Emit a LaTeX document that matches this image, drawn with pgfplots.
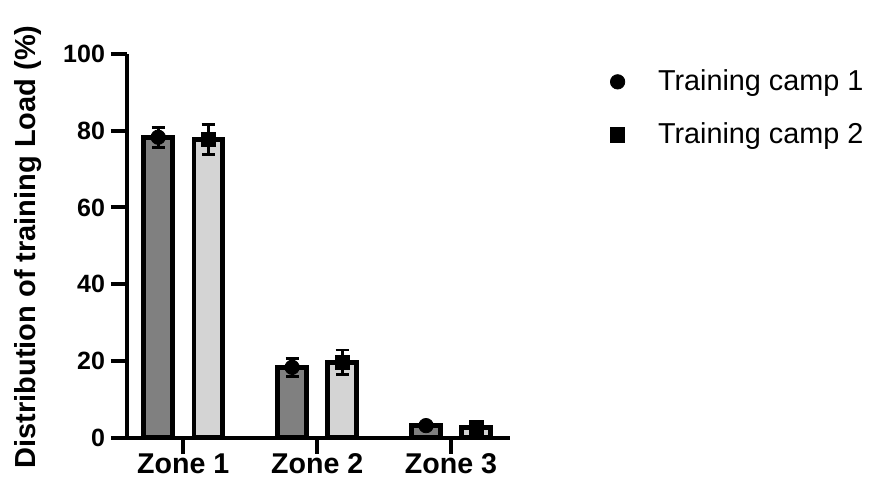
\documentclass[border=0pt]{standalone}
\usepackage{fontspec}
\setmainfont{Liberation Sans}
\usepackage{pgfplots}
\pgfplotsset{compat=1.18}
\definecolor{darkbar}{HTML}{808080}
\definecolor{lightbar}{HTML}{D4D4D4}
\begin{document}
\begin{tikzpicture}
\path (-63.5pt,-25.75pt) rectangle (378.5pt,218.75pt);
\begin{axis}[
  at={(0pt,0pt)}, anchor=south west,
  scale only axis, width=191.5pt, height=191.75pt,
  xmin=-0.42, xmax=2.44, ymin=0, ymax=100,
  axis x line=bottom, axis y line=left,
  axis line style={line width=2pt, -},
  xtick={0,1,2}, xticklabels={Zone 1,Zone 2,Zone 3},
  ytick={0,20,40,60,80,100},
  tick align=outside,
  major tick length=8pt,
  tick style={line width=2pt, black},
  /pgf/number format/assume math mode=true,
  yticklabel style={font=\fontsize{12.5}{14}\selectfont\bfseries, xshift=0.5pt},
  xticklabel style={font=\fontsize{14.3}{16}\selectfont\bfseries, yshift=3.5pt},
  ylabel={Distribution of training Load (\%)},
  every axis y label/.style={at={(axis description cs:-0.2585,0.497)}, rotate=90, anchor=center,
    font=\fontsize{14.5}{16}\selectfont\bfseries},
  clip=false,
  legend style={draw=none, fill=none, at={(rel axis cs:1.258,0.97)}, anchor=north west,
    font=\fontsize{14.4}{17}\selectfont, row sep=10.5pt, inner sep=0pt},
  legend cell align=left,
  legend image code/.code={\draw[#1] plot coordinates {(0cm,0cm)}; \path (-4pt,0pt) (18pt,0pt);},
]
\addplot[ybar, bar width=0.216, bar shift=0pt, fill=darkbar, draw=black, line width=2.3pt, forget plot]
  coordinates {(-0.187,78.3) (0.813,18.3) (1.813,3.1)};
\addplot[ybar, bar width=0.216, bar shift=0pt, fill=lightbar, draw=black, line width=2.3pt, forget plot]
  coordinates {(0.187,77.7) (1.187,19.6) (2.187,2.6)};
\addplot[only marks, mark=*, mark size=3.6pt, black,
  error bars/.cd, y dir=both, y explicit,
  error bar style={line width=1.4pt, black},
  error mark options={line width=1.4pt, mark size=3.3pt, rotate=90}]
  coordinates {(-0.187,78.3) +- (0,2.6) (0.813,18.3) +- (0,2.3) (1.813,3.1) +- (0,0.5)};
\addlegendentry{Training camp 1}
\addplot[only marks, mark=square*, mark size=3.6pt, black,
  error bars/.cd, y dir=both, y explicit,
  error bar style={line width=1.4pt, black},
  error mark options={line width=1.4pt, mark size=3.3pt, rotate=90}]
  coordinates {(0.187,77.7) +- (0,3.9) (1.187,19.6) +- (0,3.2) (2.187,2.6) +- (0,0.6)};
\addlegendentry{Training camp 2}
\end{axis}
\end{tikzpicture}
\end{document}
